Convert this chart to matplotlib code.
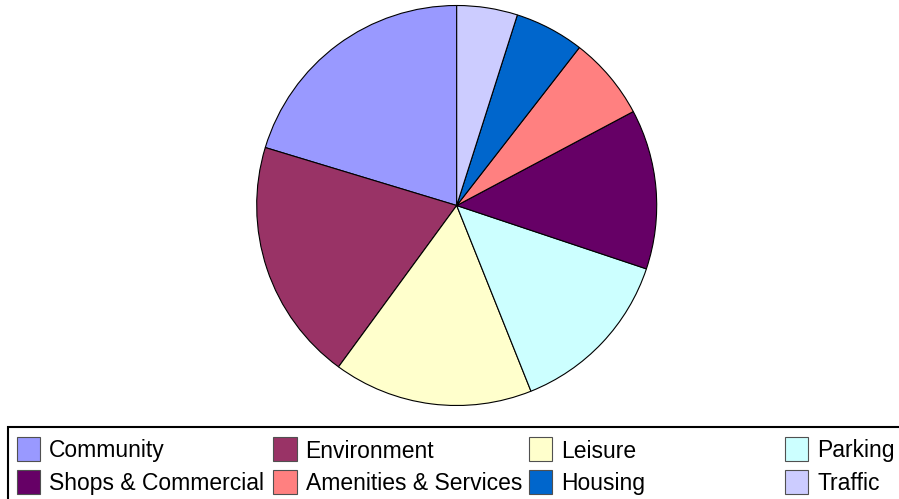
import matplotlib
matplotlib.use("Agg")
import matplotlib.pyplot as plt
from matplotlib.patches import Rectangle

# Share of responses by topic (%)
categories = ["Community", "Environment", "Leisure", "Parking",
              "Shops & Commercial", "Amenities & Services", "Housing", "Traffic"]
shares = [20.3, 19.6, 16.1, 13.8, 12.9, 6.7, 5.6, 4.9]
colours = ["#9999FF", "#993366", "#FFFFCC", "#CCFFFF",
           "#660066", "#FF8080", "#0066CC", "#CCCCFF"]

W, H = 899, 499
plt.rcParams["font.family"] = ["Liberation Sans", "DejaVu Sans"]

fig = plt.figure(figsize=(W / 100, H / 100), dpi=100)


def px(x, y):
    """Pixel position (top-left origin) -> figure fraction."""
    return x / W, 1 - y / H


# -------------------------------------------------
# Pie
# -------------------------------------------------
cx, cy, r = 456.7, 205.5, 200
ax = fig.add_axes([(cx - r) / W, 1 - (cy + r) / H, 2 * r / W, 2 * r / H])
ax.pie(shares, colors=colours, startangle=90, counterclock=True, radius=1,
       wedgeprops=dict(edgecolor="black", linewidth=0.8))
ax.set_xlim(-1, 1)
ax.set_ylim(-1, 1)
ax.axis("off")

# -------------------------------------------------
# Legend box, 4 equal columns x 2 rows
# -------------------------------------------------
x0, y0 = px(8, 427)
x1, y1 = px(910, 510)
fig.add_artist(Rectangle((x0, y1), x1 - x0, y0 - y1, transform=fig.transFigure,
                         facecolor="none", edgecolor="black", linewidth=1.5,
                         clip_on=False))

col_x = [16.7, 273, 528.5, 784.5]
row_top = [437, 470]
row_base = [457.5, 490]
sq = 23.5

for i, (label, colour) in enumerate(zip(categories, colours)):
    row, col = divmod(i, 4)
    sx, sy = px(col_x[col], row_top[row] + sq)
    fig.add_artist(Rectangle((sx, sy), sq / W, sq / H, transform=fig.transFigure,
                             facecolor=colour, edgecolor="#505050", linewidth=0.8))
    tx, ty = px(col_x[col] + 32.5, row_base[row])
    fig.text(tx, ty, label, fontsize=16.5, va="baseline", ha="left", color="black")

fig.savefig("out.png", dpi=100)
